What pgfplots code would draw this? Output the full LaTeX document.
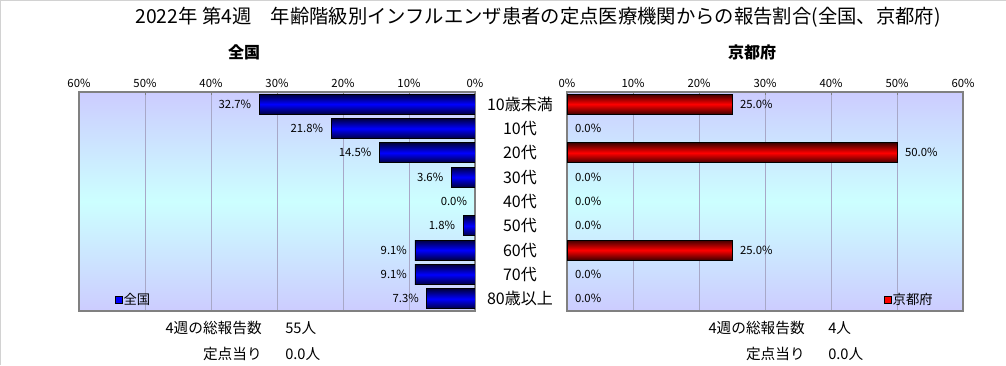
\documentclass[border=0pt]{standalone}
\usepackage{pgfplots}
\pgfplotsset{compat=1.18}
\usepackage{fontspec}
\setmainfont{Noto Sans CJK JP}
\definecolor{lav}{HTML}{CCCCFF}
\definecolor{cy}{HTML}{CCFFFF}
\definecolor{gridc}{HTML}{A8A8C8}
\definecolor{framec}{HTML}{808080}
\definecolor{bluebar}{HTML}{0000FF}
\definecolor{bluedark}{HTML}{000040}
\definecolor{redbar}{HTML}{FF0000}
\definecolor{reddark}{HTML}{400000}
\pgfplotsset{
  common/.style={
    scale only axis, width=297pt, height=164.25pt,
    xmin=0, xmax=60, ymin=-0.5, ymax=8.5, y dir=reverse,
    xtick={0,10,...,60}, xticklabel pos=upper, xtick pos=upper,
    xticklabel={\pgfmathprintnumber{\tick}\%},
    ytick={0,...,8},
    xmajorgrids, major grid style={gridc, line width=0.6pt},
    axis line style={framec, line width=0.8pt},
    xtick style={framec}, ytick style={draw=none}, major tick length=2.5pt,
    axis background/.style={top color=lav, bottom color=lav, middle color=cy},
    x tick label style={font=\fontsize{8.5}{10}\selectfont},
    /pgf/number format/assume math mode=true,
    legend style={draw=none, fill=none, anchor=west, inner sep=0pt,
      font=\fontsize{10}{12}\selectfont, nodes={inner sep=1pt}},
  },
  barL/.style={xbar, bar width=15pt, draw=black, line width=0.6pt,
    top color=bluedark, bottom color=bluedark, middle color=bluebar, forget plot},
  barR/.style={xbar, bar width=15pt, draw=black, line width=0.6pt,
    top color=reddark, bottom color=reddark, middle color=redbar, forget plot},
  lbl/.style={draw=none, mark=none, forget plot, point meta=x,
    nodes near coords={\pgfmathprintnumber[fixed,fixed zerofill,precision=1]{\pgfplotspointmeta}\%},
    every node near coord/.append style={font=\fontsize{8.5}{10}\selectfont, black}},
}
\begin{document}
\begin{tikzpicture}[x=0.75pt, y=0.75pt]
\useasboundingbox (0,0) rectangle (1006,365);
\fill[white] (0,0) rectangle (1006,365);
\draw[gray!35, line width=0.75pt] (0.5,0) -- (0.5,364.5) -- (1006,364.5);

% left axis
\begin{axis}[common, x dir=reverse, at={(59.25pt,40.5pt)}, anchor=south west,
  yticklabel pos=right,
  yticklabels={10歳未満,10代,20代,30代,40代,50代,60代,70代,80歳以上},
  yticklabel style={anchor=center, xshift=33.75pt, font=\fontsize{12}{14}\selectfont},
  legend style={at={(0.09,0.05)}}]
\addplot[barL] coordinates {(32.7,0)};
\addplot[barL] coordinates {(21.8,1)};
\addplot[barL] coordinates {(14.5,2)};
\addplot[barL] coordinates {(3.6,3)};
\addplot[barL] coordinates {(1.8,5)};
\addplot[barL] coordinates {(9.1,6)};
\addplot[barL] coordinates {(9.1,7)};
\addplot[barL] coordinates {(7.3,8)};
\addlegendimage{legend image code/.code={\draw[black, fill=bluebar, line width=0.5pt] (0pt,-2.5pt) rectangle (5pt,2.5pt);}}
\addlegendentry{全国}
\addplot[lbl, every node near coord/.append style={anchor=east, xshift=-2.5pt}]
  coordinates {(32.7,0) (21.8,1) (14.5,2) (3.6,3) (0.0,4) (1.8,5) (9.1,6) (9.1,7) (7.3,8)};
\end{axis}

% right axis
\begin{axis}[common, at={(425.25pt,40.5pt)}, anchor=south west,
  yticklabels={},
  legend style={at={(0.80,0.05)}}]
\addplot[barR] coordinates {(25,0)};
\addplot[barR] coordinates {(50,2)};
\addplot[barR] coordinates {(25,6)};
\addlegendimage{legend image code/.code={\draw[black, fill=redbar, line width=0.5pt] (0pt,-2.5pt) rectangle (5pt,2.5pt);}}
\addlegendentry{京都府}
\addplot[lbl, every node near coord/.append style={anchor=west, xshift=2.5pt}]
  coordinates {(25.0,0) (0.0,1) (50.0,2) (0.0,3) (0.0,4) (0.0,5) (25.0,6) (0.0,7) (0.0,8)};
\end{axis}

% titles
\node[font=\fontsize{14.5}{16}\selectfont] at (538,348) {2022年 第4週　年齢階級別インフルエンザ患者の定点医療機関からの報告割合(全国、京都府)};
\node[font=\bfseries\fontsize{12}{14}\selectfont] at (244,313) {全国};
\node[font=\bfseries\fontsize{12}{14}\selectfont] at (752,313) {京都府};

% bottom notes
\begin{scope}[every node/.style={font=\fontsize{11}{13}\selectfont, inner sep=0pt}]
\node[anchor=east] at (262,37) {4週の総報告数};
\node[anchor=west] at (285,37) {55人};
\node[anchor=east] at (262,11) {定点当り};
\node[anchor=west] at (285,11) {0.0人};
\node[anchor=east] at (805,37) {4週の総報告数};
\node[anchor=west] at (828,37) {4人};
\node[anchor=east] at (805,11) {定点当り};
\node[anchor=west] at (828,11) {0.0人};
\end{scope}
\end{tikzpicture}
\end{document}
